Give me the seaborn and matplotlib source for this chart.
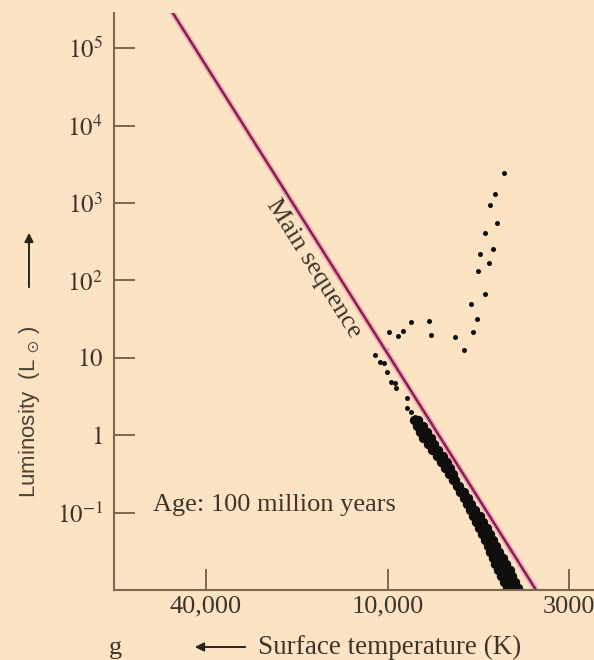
import numpy as np
import matplotlib
matplotlib.use("Agg")
import matplotlib.pyplot as plt
import seaborn as sns

# ---------------- data (log10 Teff [K], log10 L [Lsun]) ----------------
giant_log_teff = [3.664, 3.690, 3.704, 3.684, 3.720, 3.698, 3.733, 3.709, 3.741, 3.721,
                  3.760, 3.744, 3.753, 3.779, 3.807, 3.874, 3.882, 3.933, 3.956, 3.970, 3.995]
giant_log_lum = [3.391, 3.112, 2.970, 2.742, 2.609, 2.410, 2.338, 2.222, 2.119, 1.830,
                 1.697, 1.507, 1.335, 1.103, 1.267, 1.293, 1.474, 1.461, 1.348, 1.284, 1.335]

upper_ms_log_teff = [4.041, 4.027, 4.013, 4.004, 4.002, 3.990, 3.980, 3.975,
                     3.943, 3.944, 3.933, 3.920]
upper_ms_log_lum = [1.039, 0.952, 0.939, 1.103, 0.815, 0.694, 0.674, 0.617,
                    0.480, 0.351, 0.307, 0.243]

band_log_teff = [
    3.924, 3.912,
    3.915, 3.899,
    3.906, 3.896, 3.886,
    3.897, 3.887, 3.876,
    3.885, 3.876, 3.866,
    3.872, 3.863, 3.854,
    3.859, 3.850, 3.841,
    3.847, 3.838, 3.829,
    3.834, 3.821,
    3.823, 3.813,
    3.812, 3.806,
    3.801, 3.794,
    3.791, 3.780,
    3.780, 3.770,
    3.771, 3.759,
    3.762, 3.748,
    3.753, 3.744, 3.735,
    3.745, 3.735, 3.725,
    3.736, 3.726, 3.715,
    3.727, 3.716, 3.705,
    3.719, 3.708, 3.697,
    3.712, 3.700, 3.688,
    3.705, 3.693, 3.680,
    3.698, 3.684, 3.669,
    3.690, 3.674, 3.658,
    3.681, 3.665, 3.648,
    3.673, 3.657, 3.641,
    3.664, 3.649, 3.633,
    3.657, 3.641, 3.625,
]
band_log_lum = [
    0.200, 0.200,
    0.123, 0.123,
    0.045, 0.045, 0.045,
    -0.032, -0.032, -0.032,
    -0.110, -0.110, -0.110,
    -0.187, -0.187, -0.187,
    -0.265, -0.265, -0.265,
    -0.342, -0.342, -0.342,
    -0.419, -0.419,
    -0.497, -0.497,
    -0.574, -0.574,
    -0.652, -0.652,
    -0.729, -0.729,
    -0.806, -0.806,
    -0.884, -0.884,
    -0.961, -0.961,
    -1.039, -1.039, -1.039,
    -1.116, -1.116, -1.116,
    -1.194, -1.194, -1.194,
    -1.271, -1.271, -1.271,
    -1.348, -1.348, -1.348,
    -1.426, -1.426, -1.426,
    -1.503, -1.503, -1.503,
    -1.581, -1.581, -1.581,
    -1.658, -1.658, -1.658,
    -1.735, -1.735, -1.735,
    -1.813, -1.813, -1.813,
    -1.890, -1.890, -1.890,
    -1.968, -1.968, -1.968,
]

zams_log_teff = [4.736, 4.000, 3.544]
zams_log_lum = [5.600, 1.055, -2.200]

x_tick_values = [40000, 10000, 3000]
x_tick_labels = ["40,000", "10,000", "3000"]
y_tick_values = [1e-1, 1e0, 1e1, 1e2, 1e3, 1e4, 1e5]
y_tick_labels = [r"$10^{-1}$", r"$1$", r"$10$", r"$10^{2}$", r"$10^{3}$", r"$10^{4}$", r"$10^{5}$"]

# ---------------- style ----------------
sns.set_style("ticks")
BG = "#fce3c3"
SPINE = "#7a6850"
TEXT = "#3d352a"
DOT = "#100e0c"
plt.rcParams["font.family"] = ["Liberation Serif", "DejaVu Serif"]
plt.rcParams["mathtext.fontset"] = "stix"

fig = plt.figure(figsize=(5.94, 6.6), dpi=100, facecolor=BG)
ax = fig.add_axes([114 / 594, 70 / 660, 480 / 594, 577 / 660])
ax.set_facecolor(BG)

T = lambda a: 10 ** np.asarray(a, float)

sns.lineplot(x=T(zams_log_teff), y=T(zams_log_lum), ax=ax, color="#f4aabb",
             lw=4.2, sort=False, estimator=None, legend=False)
sns.lineplot(x=T(zams_log_teff), y=T(zams_log_lum), ax=ax, color="#86204c",
             lw=1.8, sort=False, estimator=None, legend=False)

sns.scatterplot(x=T(band_log_teff), y=T(band_log_lum), ax=ax, s=46, color=DOT,
                linewidth=0, legend=False)
sns.scatterplot(x=T(upper_ms_log_teff), y=T(upper_ms_log_lum), ax=ax, s=13, color=DOT,
                linewidth=0, legend=False)
sns.scatterplot(x=T(giant_log_teff), y=T(giant_log_lum), ax=ax, s=13, color=DOT,
                linewidth=0, legend=False)

# piecewise-logarithmic temperature axis (as drawn in the original figure)
L4 = np.log10(4.0)
L103 = np.log10(10.0 / 3.0)


def fwd(t):
    lt = np.log10(np.clip(np.asarray(t, float), 1e-9, None)) - 4.0
    return np.where(lt >= 0, lt / L4, lt / L103)


def inv(g):
    g = np.asarray(g, float)
    return 10 ** (4.0 + np.where(g >= 0, g * L4, g * L103))


ax.set_xscale("function", functions=(fwd, inv))
ax.set_yscale("log")
ax.set_xlim(float(inv(1.5065)), float(inv(-1.136)))
ax.set_ylim(10 ** -1.994, 10 ** 5.452)

ax.set_xticks(x_tick_values)
ax.set_xticklabels(x_tick_labels)
ax.set_yticks(y_tick_values)
ax.set_yticklabels(y_tick_labels)
ax.xaxis.set_minor_locator(matplotlib.ticker.NullLocator())
ax.yaxis.set_minor_locator(matplotlib.ticker.NullLocator())

for side in ["top", "right"]:
    ax.spines[side].set_visible(False)
for side in ["left", "bottom"]:
    ax.spines[side].set_color(SPINE)
    ax.spines[side].set_linewidth(1.5)

ax.tick_params(axis="both", direction="in", length=15, width=1.4, color=SPINE,
               labelcolor=TEXT)
ax.tick_params(axis="x", labelsize=19, pad=4)
ax.tick_params(axis="y", labelsize=18, pad=8)
ax.set_xlabel("")
ax.set_ylabel("")

ax.text(0.4156, 0.5572, "Main sequence", transform=ax.transAxes, rotation=-57.83,
        rotation_mode="anchor", ha="center", va="center", fontsize=19, color=TEXT)
ax.text(0.081, 0.137, "Age: 100 million years", transform=ax.transAxes,
        ha="left", va="baseline", fontsize=19, color=TEXT)

# axis titles with arrows
fig.text(30 / 594, 1 - 498 / 660, r"Luminosity  (L $_{\odot}$ )", rotation=90,
         ha="center", va="bottom", fontsize=16, color="#4a4236",
         family=["Liberation Sans", "DejaVu Sans"])
fig.add_artist(matplotlib.patches.FancyArrowPatch(
    (29 / 594, 1 - 290 / 660), (29 / 594, 1 - 230 / 660), transform=fig.transFigure,
    arrowstyle="-|>", mutation_scale=13, color="#2a241c", lw=1.4))

fig.text(390 / 594, 1 - 647 / 660, "Surface temperature (K)", ha="center",
         va="center", fontsize=19.5, color=TEXT)
fig.add_artist(matplotlib.patches.FancyArrowPatch(
    (248 / 594, 1 - 647 / 660), (192 / 594, 1 - 647 / 660), transform=fig.transFigure,
    arrowstyle="-|>", mutation_scale=13, color="#2a241c", lw=1.4))
fig.text(115 / 594, 1 - 648 / 660, "g", ha="center", va="center", fontsize=19,
         color=TEXT)

fig.savefig("out.png", dpi=100, facecolor=BG)
